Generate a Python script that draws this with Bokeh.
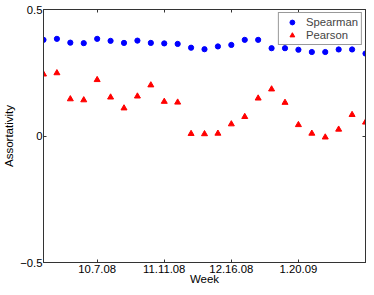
from bokeh.plotting import figure
from bokeh.models import LinearAxis, FixedTicker, Range1d, Legend, LegendItem, CustomJSTickFormatter
from bokeh.embed import file_html
from bokeh.resources import INLINE

# ---- data ----
week = list(range(25))  # week index, 0 = 9.9.08
spearman = [0.380, 0.384, 0.369, 0.367, 0.384, 0.376, 0.368, 0.377, 0.368, 0.366, 0.364,
            0.349, 0.343, 0.354, 0.360, 0.380, 0.380, 0.347, 0.347, 0.341, 0.332, 0.332,
            0.342, 0.342, 0.326]
pearson = [0.244, 0.249, 0.146, 0.142, 0.222, 0.153, 0.110, 0.157, 0.201, 0.136, 0.133,
           0.009, 0.008, 0.010, 0.047, 0.076, 0.149, 0.185, 0.132, 0.044, 0.010, -0.005,
           0.026, 0.084, 0.054]
x_tick_weeks = [4, 9, 14, 19]
x_tick_labels = ["10.7.08", "11.11.08", "12.16.08", "1.20.09"]
y_ticks = [-0.5, 0, 0.5]
y_tick_labels = ["\u22120.5", "0", "0.5"]

FONT = "Liberation Sans"
AX = "#333333"

p = figure(width=366, height=287, output_backend="svg", toolbar_location=None,
           x_range=Range1d(0, 24), y_range=Range1d(-0.5, 0.5),
           min_border_left=43, min_border_right=1, min_border_top=9, min_border_bottom=0)
p.xgrid.visible = False
p.ygrid.visible = False
p.outline_line_color = AX
p.background_fill_color = "white"
p.border_fill_color = "white"

r1 = p.scatter(week, spearman, marker="circle", size=5.2, fill_color="#0000ff", line_color="#0000ff")
r2 = p.scatter(week, pearson, marker="triangle", size=6, fill_color="#ff0000", line_color="#ff0000")

def style(ax):
    ax.axis_line_color = AX
    ax.major_tick_line_color = AX
    ax.major_tick_in = 3
    ax.major_tick_out = 0
    ax.minor_tick_line_color = None
    ax.major_label_text_font = FONT
    ax.major_label_text_font_size = "11.3px"
    ax.major_label_text_color = "black"
    ax.axis_label_text_font = FONT
    ax.axis_label_text_font_size = "11.5px"
    ax.axis_label_text_font_style = "normal"
    ax.axis_label_text_color = "black"

xa = p.xaxis[0]
style(xa)
xa.ticker = FixedTicker(ticks=x_tick_weeks)
xa.major_label_overrides = {k: v for k, v in zip(x_tick_weeks, x_tick_labels)}
xa.axis_label = "Week"
xa.major_label_standoff = 2
xa.axis_label_standoff = -3

ya = p.yaxis[0]
style(ya)
ya.ticker = FixedTicker(ticks=y_ticks)
ya.major_label_overrides = {k: v for k, v in zip(y_ticks, y_tick_labels)}
ya.axis_label = "Assortativity"
ya.major_label_standoff = 1
ya.axis_label_standoff = 2

blank = CustomJSTickFormatter(code="return ''")
ra = LinearAxis(ticker=FixedTicker(ticks=y_ticks), formatter=blank)
style(ra)
ra.major_label_text_font_size = "0px"
ra.major_label_standoff = 0
p.add_layout(ra, "right")

ta = LinearAxis(ticker=FixedTicker(ticks=x_tick_weeks), formatter=blank)
style(ta)
ta.major_label_text_font_size = "0px"
ta.major_label_standoff = 0
p.add_layout(ta, "above")

legend = Legend(items=[LegendItem(label="Spearman", renderers=[r1]),
                       LegendItem(label="Pearson", renderers=[r2])],
                location="top_right")
legend.margin = 3
legend.padding = 3
legend.spacing = 1
legend.glyph_width = 20
legend.glyph_height = 12
legend.label_standoff = 4
legend.label_text_font = FONT
legend.label_text_font_size = "11.3px"
legend.label_height = 12
legend.border_line_color = AX
legend.border_line_width = 1
legend.background_fill_color = "white"
legend.background_fill_alpha = 1
p.add_layout(legend, "center")

open("out.html", "w").write(file_html(p, INLINE))
